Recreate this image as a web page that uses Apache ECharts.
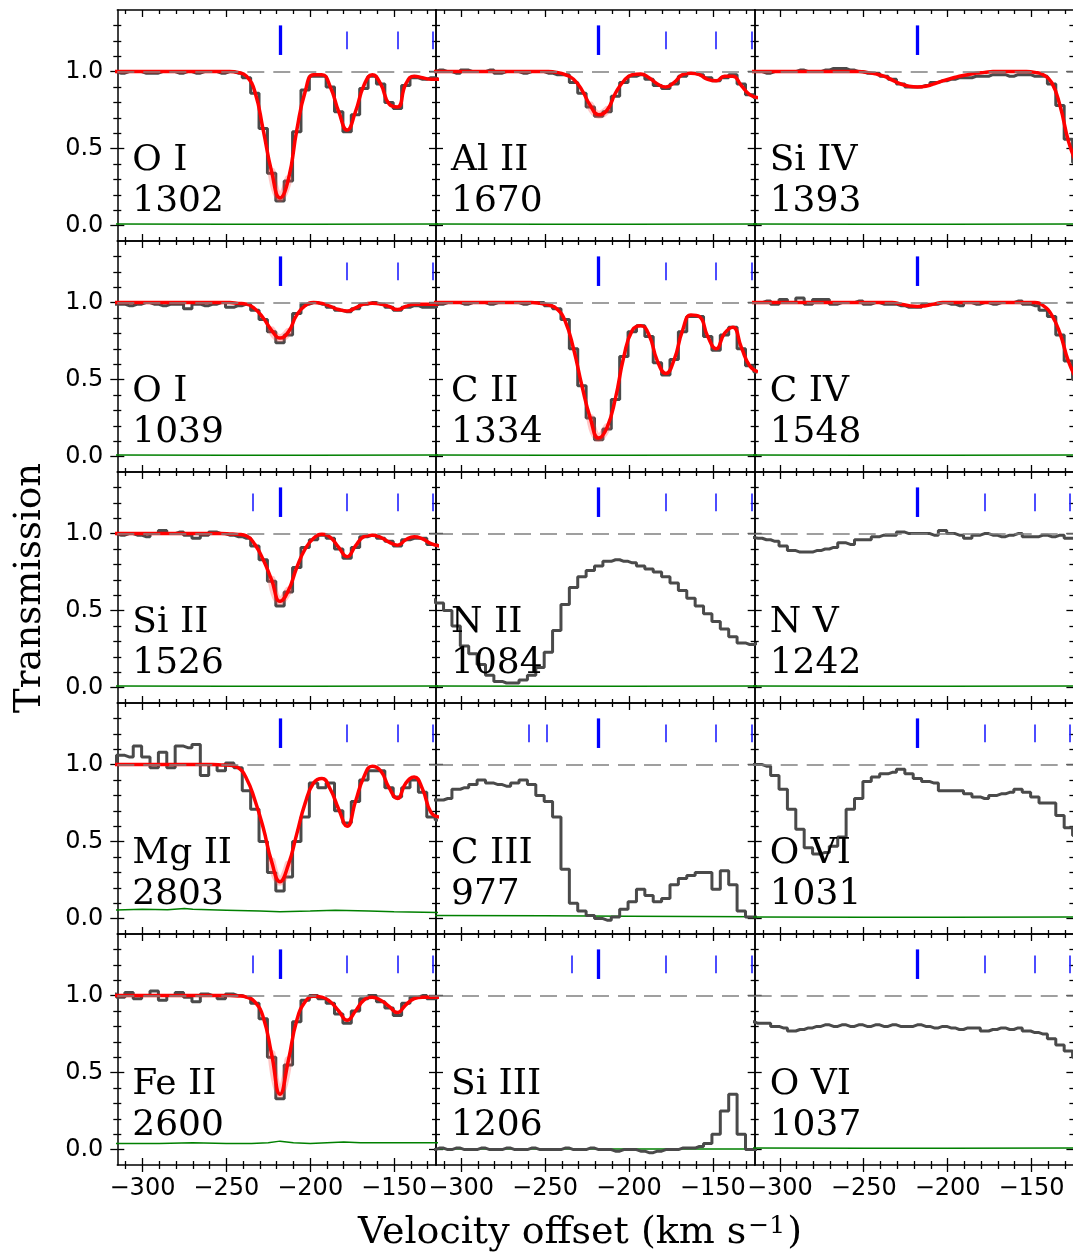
<!DOCTYPE html>
<html><head><meta charset="utf-8">
<script src="https://cdn.jsdelivr.net/npm/echarts@6/dist/echarts.min.js"></script>
<style>html,body{margin:0;padding:0;background:#fff}#chart{width:1073px;height:1255px}</style>
</head><body><div id="chart"></div>
<script>
// ---------------- DATA ----------------
const velocity = [-318,-313,-308,-303,-298,-293,-288,-283,-278,-273,-268,-263,-258,-253,-248,-243,-238,-233,-228,-223,-218,-213,-208,-203,-198,-193,-188,-183,-178,-173,-168,-163,-158,-153,-148,-143,-138,-133,-128,-123];

const fluxOI1302   = [1.0,0.99,1.0,1.0,0.99,0.99,1.0,1.0,0.99,1.0,0.99,1.0,1.0,0.99,1.0,0.99,0.96,0.86,0.63,0.34,0.16,0.29,0.61,0.88,0.97,0.97,0.90,0.74,0.61,0.72,0.89,0.97,0.92,0.80,0.76,0.91,0.96,0.95,0.96,0.95];
const modelOI1302  = [1,1,1,1,1,1,1,1,1,1,1,1,1,1,1,0.995,0.97,0.87,0.62,0.35,0.18,0.30,0.62,0.87,0.98,0.98,0.90,0.74,0.62,0.74,0.91,0.98,0.92,0.79,0.77,0.92,0.97,0.96,0.95,0.95];
const fluxAlII1670 = [1.0,1.01,1.0,0.99,1.01,1.0,1.0,1.01,0.99,1.0,1.0,0.99,1.0,1.0,0.99,0.98,0.98,0.93,0.86,0.77,0.71,0.74,0.84,0.93,0.97,0.98,0.95,0.91,0.89,0.92,0.97,0.99,0.98,0.96,0.94,0.96,0.98,0.92,0.85,0.83];
const modelAlII1670= [1,1,1,1,1,1,1,1,1,1,1,1,1,1,1,0.995,0.98,0.95,0.88,0.78,0.72,0.75,0.86,0.94,0.98,0.985,0.96,0.92,0.90,0.93,0.98,0.99,0.98,0.95,0.94,0.97,0.97,0.91,0.85,0.83];
const fluxSiIV1393 = [1.0,1.0,0.99,1.0,1.0,1.0,1.01,1.0,1.0,1.01,1.02,1.02,1.01,1.0,0.99,0.99,0.97,0.95,0.92,0.90,0.90,0.91,0.93,0.94,0.95,0.96,0.96,0.97,0.97,0.98,0.98,0.97,0.98,0.98,0.97,0.97,0.92,0.78,0.56,0.41];
const modelSiIV1393= [1,1,1,1,1,1,1,1,1,1,1,1,1,1,0.995,0.985,0.97,0.945,0.92,0.905,0.90,0.905,0.92,0.94,0.955,0.97,0.98,0.99,0.995,1,1,1,1,1,0.995,0.98,0.93,0.78,0.55,0.40];
const fluxOI1039   = [0.99,0.99,0.98,0.99,1.0,0.99,0.98,0.99,0.99,0.96,0.99,0.98,0.99,1.0,0.97,0.98,0.99,0.95,0.89,0.81,0.74,0.79,0.93,0.99,1.0,0.99,0.97,0.95,0.94,0.96,0.99,1.0,0.99,0.97,0.95,0.97,0.98,0.97,0.97,0.98];
const modelOI1039  = [1,1,1,1,1,1,1,1,1,1,1,1,1,1,1,0.995,0.99,0.96,0.90,0.82,0.77,0.81,0.92,0.98,1.0,0.995,0.975,0.955,0.945,0.965,0.99,0.995,0.99,0.975,0.955,0.975,0.99,0.99,0.99,0.99];
const fluxCII1334  = [1.0,0.99,1.0,1.0,0.99,1.0,1.0,0.99,1.0,1.0,1.0,0.99,1.0,1.0,0.98,0.96,0.89,0.70,0.46,0.25,0.11,0.18,0.37,0.65,0.81,0.85,0.78,0.61,0.53,0.63,0.81,0.91,0.91,0.78,0.69,0.79,0.84,0.70,0.59,0.55];
const modelCII1334 = [1,1,1,1,1,1,1,1,1,1,1,1,1,0.995,0.985,0.96,0.88,0.70,0.46,0.25,0.12,0.19,0.38,0.65,0.82,0.85,0.79,0.62,0.54,0.63,0.82,0.92,0.91,0.78,0.70,0.80,0.84,0.71,0.59,0.55];
const fluxCIV1548  = [1.0,1.0,1.01,0.99,1.02,1.0,1.03,0.99,1.02,1.02,0.99,1.0,1.0,1.01,0.99,1.0,0.99,0.99,0.98,0.97,0.97,0.99,0.99,1.0,0.99,0.98,1.0,0.99,1.0,0.99,1.0,1.0,1.01,0.99,0.98,0.95,0.91,0.79,0.62,0.50];
const modelCIV1548 = [1,1,1,1,1,1,1,1,1,1,1,1,1,1,1,1,1,1,0.99,0.98,0.975,0.98,0.99,1,1,1,1,1,1,1,1,1,1,1,1.0,0.98,0.92,0.80,0.62,0.50];
const fluxSiII1526 = [1.0,0.99,1.0,0.99,0.98,1.0,1.02,1.0,1.01,0.99,0.97,0.99,1.01,1.0,0.99,0.98,0.97,0.92,0.83,0.69,0.53,0.62,0.78,0.91,0.96,0.99,0.97,0.90,0.84,0.91,0.98,0.99,0.97,0.95,0.92,0.96,0.97,0.97,0.93,0.92];
const modelSiII1526= [1,1,1,1,1,1,1,1,1,1,1,1,1,1,0.998,0.995,0.985,0.93,0.83,0.70,0.56,0.63,0.78,0.90,0.97,0.995,0.975,0.91,0.85,0.92,0.98,0.99,0.975,0.945,0.925,0.96,0.98,0.965,0.935,0.92];
const fluxNII1084  = [0.57,0.55,0.50,0.40,0.27,0.22,0.15,0.08,0.04,0.03,0.03,0.05,0.08,0.13,0.23,0.37,0.54,0.65,0.72,0.76,0.79,0.82,0.83,0.82,0.81,0.79,0.77,0.75,0.72,0.68,0.63,0.58,0.53,0.48,0.43,0.38,0.33,0.29,0.28,0.29];
const fluxNV1242   = [0.975,0.97,0.96,0.95,0.92,0.89,0.88,0.88,0.89,0.90,0.91,0.94,0.93,0.96,0.96,0.98,0.99,0.99,1.01,1.0,1.0,1.0,0.99,1.02,1.0,0.99,0.97,0.99,1.0,0.99,0.98,0.99,1.0,0.98,0.98,0.99,0.98,0.99,0.97,0.97];
const fluxMgII2803 = [1.02,1.06,1.05,1.12,1.05,0.98,1.08,0.98,1.12,1.11,1.13,0.93,1.0,0.96,1.01,0.98,0.83,0.71,0.50,0.30,0.18,0.27,0.50,0.66,0.88,0.85,0.88,0.70,0.62,0.76,0.90,0.96,0.96,0.85,0.79,0.85,0.90,0.82,0.66,0.64];
const modelMgII2803= [1,1,1,1,1,1,1,1,1,1,1,1,1,0.998,0.995,0.98,0.91,0.77,0.59,0.37,0.24,0.35,0.55,0.75,0.88,0.91,0.84,0.71,0.60,0.76,0.92,0.99,0.96,0.85,0.78,0.88,0.92,0.84,0.69,0.66];
const fluxCIII977  = [0.77,0.77,0.78,0.84,0.85,0.87,0.90,0.88,0.87,0.86,0.88,0.90,0.87,0.80,0.76,0.66,0.32,0.10,0.05,0.02,0.0,-0.01,0.01,0.06,0.11,0.19,0.15,0.11,0.13,0.22,0.26,0.28,0.30,0.30,0.19,0.31,0.22,0.05,0.01,0.01];
const fluxOVI1031  = [1.0,1.0,0.99,0.93,0.84,0.71,0.58,0.46,0.42,0.43,0.47,0.53,0.71,0.78,0.89,0.92,0.94,0.95,0.97,0.94,0.91,0.89,0.88,0.83,0.83,0.83,0.81,0.79,0.78,0.80,0.81,0.82,0.84,0.82,0.79,0.75,0.75,0.67,0.59,0.54];
const fluxFeII2600 = [1.01,0.99,1.02,0.98,1.0,1.03,0.97,1.0,1.02,0.99,0.96,1.01,1.0,0.98,1.01,1.0,0.99,0.95,0.85,0.60,0.33,0.55,0.83,0.97,1.0,0.98,0.95,0.88,0.82,0.90,0.98,1.0,0.96,0.92,0.87,0.95,0.99,1.0,0.98,0.99];
const modelFeII2600= [1,1,1,1,1,1,1,1,1,1,1,1,1,1,1,0.998,0.99,0.96,0.86,0.62,0.36,0.58,0.84,0.96,0.995,0.99,0.96,0.90,0.84,0.90,0.97,0.99,0.97,0.93,0.89,0.94,0.98,0.99,0.99,0.99];
const fluxSiIII1206= [0.0,0.01,0.0,0.01,0.0,0.0,0.01,0.0,0.0,0.01,0.0,0.0,0.01,0.0,0.0,0.0,0.01,0.0,0.0,0.01,0.0,0.0,-0.01,0.0,0.0,-0.01,-0.02,-0.01,0.0,0.0,0.01,0.01,0.02,0.04,0.10,0.25,0.36,0.10,0.0,0.0];
const fluxOVI1037  = [0.83,0.82,0.82,0.80,0.79,0.77,0.78,0.79,0.80,0.81,0.80,0.81,0.80,0.81,0.80,0.81,0.80,0.81,0.80,0.80,0.81,0.80,0.79,0.80,0.79,0.78,0.79,0.79,0.77,0.78,0.79,0.78,0.79,0.77,0.76,0.75,0.72,0.68,0.64,0.60];

// error spectra (velocity, sigma)
const errLow      = [[-318,0.010],[-250,0.009],[-200,0.008],[-123,0.010]];
const errMgII2803 = [[-318,0.055],[-300,0.060],[-285,0.058],[-275,0.065],[-270,0.060],[-250,0.055],[-230,0.050],[-218,0.045],[-200,0.050],[-185,0.055],[-165,0.050],[-150,0.045],[-123,0.040]];
const errCIII977  = [[-318,0.020],[-250,0.018],[-200,0.015],[-123,0.012]];
const errFeII2600 = [[-318,0.040],[-290,0.040],[-270,0.045],[-250,0.040],[-235,0.040],[-225,0.045],[-218,0.055],[-210,0.045],[-200,0.040],[-190,0.045],[-180,0.050],[-170,0.045],[-123,0.045]];
const errSiIII1206= [[-318,0.004],[-200,0.004],[-123,0.004]];

const panelIons  = ['O I','Al II','Si IV','O I','C II','C IV','Si II','N II','N V','Mg II','C III','O VI','Fe II','Si III','O VI'];
const panelWaves = ['1302','1670','1393','1039','1334','1548','1526','1084','1242','2803','977','1031','2600','1206','1037'];
const panelFlux  = [fluxOI1302,fluxAlII1670,fluxSiIV1393,fluxOI1039,fluxCII1334,fluxCIV1548,fluxSiII1526,fluxNII1084,fluxNV1242,fluxMgII2803,fluxCIII977,fluxOVI1031,fluxFeII2600,fluxSiIII1206,fluxOVI1037];
const panelModel = [modelOI1302,modelAlII1670,modelSiIV1393,modelOI1039,modelCII1334,modelCIV1548,modelSiII1526,null,null,modelMgII2803,null,null,modelFeII2600,null,null];
const panelError = [errLow,errLow,errLow,errLow,errLow,errLow,errLow,errLow,errLow,errMgII2803,errCIII977,errLow,errFeII2600,errSiIII1206,errLow];
const panelBand  = [[-223,-213],[-223,-213],null,[-223,-213],[-223,-213],null,[-223,-213],null,null,[-223,-213],null,null,[-223,-213],null,null];
const mainComponent = -218;
const thinComponents = [
  [-178,-148,-127],[-178,-148,-127],[],
  [-178,-148,-127],[-178,-148,-127],[],
  [-234,-178,-148,-127],[-178,-148,-127],[-178,-148,-127],
  [-178,-148,-127],[-260,-249,-178,-148,-127],[-178,-148,-127],
  [-234,-178,-148,-127],[-234,-178,-148,-127],[-178,-148,-127]
];
const markThickSpan = [1.108, 1.30];
const markThinSpan  = [1.145, 1.26];
const continuumLevel = 1.0;

const xMajorTicks = [-300,-250,-200,-150];
const xMinorTicks = [-310,-290,-280,-270,-260,-240,-230,-220,-210,-190,-180,-170,-160,-140,-130];
const yMajorTicks = [0, 0.5, 1.0];
const yMinorTicks = [0.1,0.2,0.3,0.4,0.6,0.7,0.8,0.9,1.1,1.2,1.3];
const X_MIN = -315, X_MAX = -125, Y_MIN = -0.1, Y_MAX = 1.4;

// ---------------- LAYOUT ----------------
const COL_LEFT = [117.3, 436.0, 754.7], COL_W = 318.7, ROW_TOP = 10, ROW_H = 231;

const fmtX = v => (v < 0 ? '\u2212' : '') + Math.abs(v);
const fmtY = v => Number(v).toFixed(1);

function tickAxis(dim, g, pos, ticks, len, inside, showLine, showLabels) {
  const isX = dim === 'x';
  return {
    type: 'value', gridIndex: g, position: pos,
    min: isX ? X_MIN : Y_MIN, max: isX ? X_MAX : Y_MAX,
    axisLine: {show: showLine, onZero: false, lineStyle: {color: '#000', width: 1.5}},
    axisTick: {show: true, inside: inside, length: len, customValues: ticks, lineStyle: {color: '#000', width: 1.3}},
    axisLabel: showLabels ? {show: true, customValues: ticks, margin: isX ? 12 : 14,
      fontFamily: 'DejaVu Sans', fontSize: 24, color: '#000', formatter: isX ? fmtX : fmtY} : {show: false},
    splitLine: {show: false}, minorTick: {show: false}, minorSplitLine: {show: false},
    axisPointer: {show: false}, silent: true
  };
}

const grids = [], xAxes = [], yAxes = [], series = [], titles = [];
panelFlux.forEach((flux, i) => {
  const r = Math.floor(i / 3), c = i % 3;
  const left = COL_LEFT[c], top = ROW_TOP + r * ROW_H;
  grids.push({left: left, top: top, width: COL_W, height: ROW_H, outerBoundsMode: 'none', containLabel: false});
  const xi = xAxes.length, yi = yAxes.length;
  xAxes.push(tickAxis('x', i, 'bottom', xMajorTicks, 7, true, true, false));
  xAxes.push(tickAxis('x', i, 'bottom', xMinorTicks, 4, true, false, false));
  xAxes.push(tickAxis('x', i, 'top', xMajorTicks, 7, true, true, false));
  xAxes.push(tickAxis('x', i, 'top', xMinorTicks, 4, true, false, false));
  if (r === 4) {
    xAxes.push(tickAxis('x', i, 'bottom', xMajorTicks, 7, false, false, true));
    xAxes.push(tickAxis('x', i, 'bottom', xMinorTicks, 4, false, false, false));
  }
  yAxes.push(tickAxis('y', i, 'left', yMajorTicks, 7, true, true, false));
  yAxes.push(tickAxis('y', i, 'left', yMinorTicks, 4, true, false, false));
  yAxes.push(tickAxis('y', i, 'right', yMajorTicks, 7, true, true, false));
  yAxes.push(tickAxis('y', i, 'right', yMinorTicks, 4, true, false, false));
  if (c === 0) {
    yAxes.push(tickAxis('y', i, 'left', yMajorTicks, 7, false, false, true));
    yAxes.push(tickAxis('y', i, 'left', yMinorTicks, 4, false, false, false));
  }

  const markData = [{yAxis: continuumLevel, lineStyle: {color: '#808080', type: [17, 9], width: 1.5}}];
  const thick = {color: '#0000ff', width: 3.3, type: 'solid'};
  markData.push([{coord: [mainComponent, markThickSpan[0]], lineStyle: thick}, {coord: [mainComponent, markThickSpan[1]], lineStyle: thick}]);
  thinComponents[i].forEach(v => {
    const thin = {color: '#2020ff', width: 1.6, type: 'solid'};
    markData.push([{coord: [v, markThinSpan[0]], lineStyle: thin}, {coord: [v, markThinSpan[1]], lineStyle: thin}]);
  });

  const base = {xAxisIndex: xi, yAxisIndex: yi, showSymbol: false, symbol: 'none', silent: true, animation: false};
  series.push(Object.assign({}, base, {
    type: 'line', data: panelError[i], lineStyle: {color: '#008000', width: 1.5},
    markLine: {silent: true, symbol: ['none', 'none'], label: {show: false}, animation: false, data: markData}
  }));
  series.push(Object.assign({}, base, {
    type: 'line', step: 'middle', data: velocity.map((v, k) => [v, flux[k]]),
    lineStyle: {color: '#4a4a4a', width: 3}
  }));
  const model = panelModel[i];
  if (model) {
    const band = panelBand[i];
    if (band) {
      series.push(Object.assign({}, base, {
        type: 'line', smooth: 0.5,
        data: velocity.map((v, k) => [v, model[k]]).filter(p => p[0] >= band[0] && p[0] <= band[1]),
        lineStyle: {color: 'rgba(255,70,70,0.3)', width: 8, cap: 'round'}
      }));
    }
    series.push(Object.assign({}, base, {
      type: 'line', smooth: 0.5, data: velocity.map((v, k) => [v, model[k]]),
      lineStyle: {color: '#ff0000', width: 3.5}
    }));
  }
  titles.push({
    text: panelIons[i] + '\n' + panelWaves[i], left: left + 15, top: top + 130, padding: 0,
    textStyle: {fontFamily: 'DejaVu Serif', fontSize: 36, fontWeight: 'normal', color: '#000', lineHeight: 41}
  });
});

const chart = echarts.init(document.getElementById('chart'), null, {renderer: 'canvas'});
chart.setOption({
  animation: false,
  backgroundColor: '#fff',
  title: titles,
  grid: grids, xAxis: xAxes, yAxis: yAxes, series: series,
  graphic: [
    {type: 'text', x: 30, y: 588, rotation: Math.PI / 2, silent: true,
     style: {text: 'Transmission', font: '37px "DejaVu Serif"', textAlign: 'center', textVerticalAlign: 'middle', fill: '#000'}},
    {type: 'text', x: 580, y: 1233, silent: true,
     style: {text: 'Velocity offset (km s{sup|\u22121})', font: '38px "DejaVu Serif"', textAlign: 'center', textVerticalAlign: 'middle', fill: '#000',
       rich: {sup: {fontSize: 25, fontFamily: 'DejaVu Serif', verticalAlign: 'top', padding: [0, 2, 14, 2]}}}}
  ]
});
</script></body></html>
